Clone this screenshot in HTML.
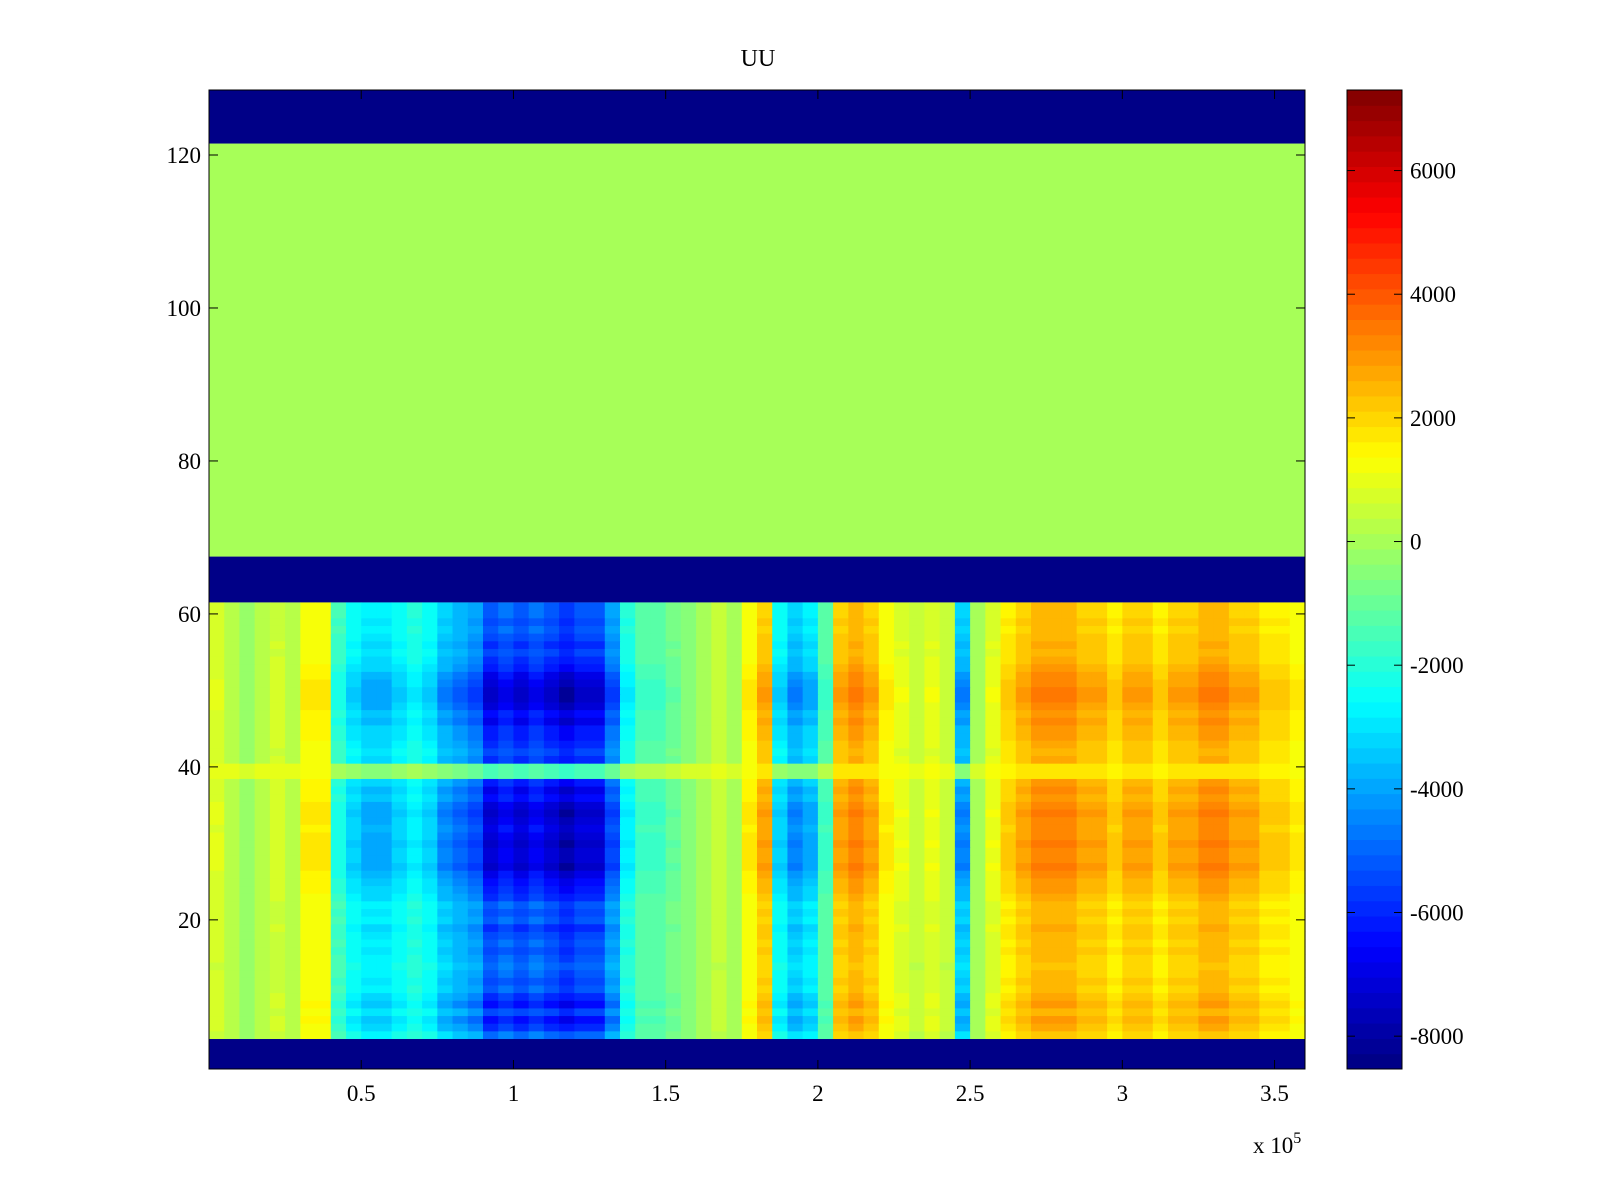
<!DOCTYPE html>
<html><head><meta charset="utf-8"><style>
html,body{margin:0;padding:0;background:#fff;}
svg{display:block;font-family:"Liberation Serif",serif;}
</style></head><body>
<svg id="chart" width="1600" height="1200" viewBox="0 0 1600 1200" xmlns="http://www.w3.org/2000/svg">
<rect width="1600" height="1200" fill="#fff"/>
<text x="758" y="66" font-size="24" text-anchor="middle">UU</text>
<g id="cells"></g>
<g id="cbar"></g>
<g id="axes"></g>
<text x="1253" y="1153" font-size="23">x 10<tspan dy="-10" font-size="16">5</tspan></text>
</svg>
<script>
// ---- data ----
const xBinStart = [0,5000,10000,15000,20000,25000,30000,35000,40000,45000,50000,55000,60000,65000,70000,75000,80000,85000,90000,95000,100000,105000,110000,115000,120000,125000,130000,135000,140000,145000,150000,155000,160000,165000,170000,175000,180000,185000,190000,195000,200000,205000,210000,215000,220000,225000,230000,235000,240000,245000,250000,255000,260000,265000,270000,275000,280000,285000,290000,295000,300000,305000,310000,315000,320000,325000,330000,335000,340000,345000,350000,355000];
const columnValues = [800,300,-300,300,700,300,1500,1500,-2000,-3000,-3500,-3500,-3000,-2500,-3000,-4000,-4500,-5000,-6500,-6000,-6500,-6000,-6500,-7000,-6500,-6500,-5000,-2500,-1500,-1500,-1000,-500,0,500,0,1500,2500,-3000,-4000,-3500,-1500,2500,3000,2500,1500,1000,500,1000,500,-4000,0,1000,2000,2500,3000,3000,3000,2500,2500,2000,2500,2500,2000,2500,2500,3000,3000,2500,2500,2000,2000,1500];
const dataRows = [5,6,7,8,9,10,11,12,13,14,15,16,17,18,19,20,21,22,23,24,25,26,27,28,29,30,31,32,33,34,35,36,37,38,39,40,41,42,43,44,45,46,47,48,49,50,51,52,53,54,55,56,57,58,59,60,61];
const rowScale = [0.75,0.9,1.0,0.85,1.0,0.9,0.8,0.85,0.8,0.75,0.8,0.85,0.8,0.85,0.9,0.8,0.85,0.8,0.9,0.95,1.0,1.05,1.15,1.1,1.1,1.15,1.1,1.05,1.1,1.15,1.1,1.0,1.05,0.95,0.35,0.35,0.9,0.85,0.9,0.95,0.95,1.05,1.0,1.1,1.15,1.15,1.1,1.05,0.95,0.9,0.85,0.9,0.85,0.8,0.85,0.8,0.8];
const rowOffset = [0,0,0,0,0,0,0,0,0,0,0,0,0,0,0,0,0,0,0,0,0,0,0,0,0,0,0,0,0,0,0,0,0,0,800,800,0,0,0,0,0,0,0,0,0,0,0,0,0,0,0,0,0,0,0,0,0];
const bandRows = [[0.5,4.5,-8531],[61.5,67.5,-8531],[67.5,121.5,0],[121.5,128.5,-8531]];
const xTicks = [50000,100000,150000,200000,250000,300000,350000];
const xTickLabels = ["0.5","1","1.5","2","2.5","3","3.5"];
const yTicks = [20,40,60,80,100,120];
const cTicks = [6000,4000,2000,0,-2000,-4000,-6000,-8000];
// ---- scales ----
const X0=209,X1=1305,Y0=90,Y1=1069;
const xMin=0,xMax=360000,yMin=0.5,yMax=128.5,cMin=-8531,cMax=7303;
const sx=v=>X0+(v-xMin)/(xMax-xMin)*(X1-X0);
const sy=v=>Y1-(v-yMin)/(yMax-yMin)*(Y1-Y0);
function jet(v){
  let t=(v-cMin)/(cMax-cMin); t=Math.max(0,Math.min(0.9999,t));
  t=(Math.floor(t*64)+0.5)/64;
  const f=c=>Math.round(255*Math.max(0,Math.min(1,1.5-Math.abs(4*t-c))));
  return `rgb(${f(3)},${f(2)},${f(1)})`;
}
const NS="http://www.w3.org/2000/svg";
function mk(tag,attrs,parent){const e=document.createElementNS(NS,tag);for(const k in attrs)e.setAttribute(k,attrs[k]);parent.appendChild(e);return e;}
const cells=document.getElementById('cells');
bandRows.forEach(b=>{
  const r=mk('rect',{x:X0,y:sy(b[1]),width:X1-X0,height:sy(b[0])-sy(b[1]),fill:jet(b[2])},cells);
  
  
});
dataRows.forEach((row,ri)=>{
  columnValues.forEach((cv,ci)=>{
    const xa=sx(xBinStart[ci]), xb=sx(xBinStart[ci]+5000);
    const r=mk('rect',{x:xa,y:sy(row+0.5),width:xb-xa+0.6,height:sy(row-0.5)-sy(row+0.5)+0.6,fill:jet(cv*rowScale[ri]+rowOffset[ri])},cells);
    
    
  });
});
const axes=document.getElementById('axes');
mk('rect',{x:X0,y:Y0,width:X1-X0,height:Y1-Y0,fill:'none',stroke:'#000','stroke-width':1},axes);
xTicks.forEach((t,i)=>{
  const x=sx(t);
  mk('line',{x1:x,y1:Y1,x2:x,y2:Y1-9,stroke:'#000'},axes);
  mk('line',{x1:x,y1:Y0,x2:x,y2:Y0+9,stroke:'#000'},axes);
  const tx=mk('text',{x:x,y:Y1+32,'font-size':23,'text-anchor':'middle'},axes);
  tx.textContent=xTickLabels[i];
  
  
});
yTicks.forEach(t=>{
  const y=sy(t);
  mk('line',{x1:X0,y1:y,x2:X0+9,y2:y,stroke:'#000'},axes);
  mk('line',{x1:X1,y1:y,x2:X1-9,y2:y,stroke:'#000'},axes);
  const tx=mk('text',{x:X0-8,y:y+8,'font-size':23,'text-anchor':'end'},axes);
  tx.textContent=String(t);
  
  
});
// colorbar
const cb=document.getElementById('cbar');
const CX0=1347,CX1=1402;
const cy=v=>Y1-(v-cMin)/(cMax-cMin)*(Y1-Y0);
for(let i=0;i<64;i++){
  const a=cMin+(cMax-cMin)*i/64,b=cMin+(cMax-cMin)*(i+1)/64;
  const r=mk('rect',{x:CX0,y:cy(b),width:CX1-CX0,height:cy(a)-cy(b)+0.5,fill:jet((a+b)/2)},cb);
  
  
}
mk('rect',{x:CX0,y:Y0,width:CX1-CX0,height:Y1-Y0,fill:'none',stroke:'#000'},cb);
cTicks.forEach(t=>{
  const y=cy(t);
  mk('line',{x1:CX0,y1:y,x2:CX0+8,y2:y,stroke:'#000'},cb);
  mk('line',{x1:CX1,y1:y,x2:CX1-8,y2:y,stroke:'#000'},cb);
  const tx=mk('text',{x:CX1+8,y:y+8,'font-size':23},cb);
  tx.textContent=String(t);
  
  
});
</script>
</body></html>
